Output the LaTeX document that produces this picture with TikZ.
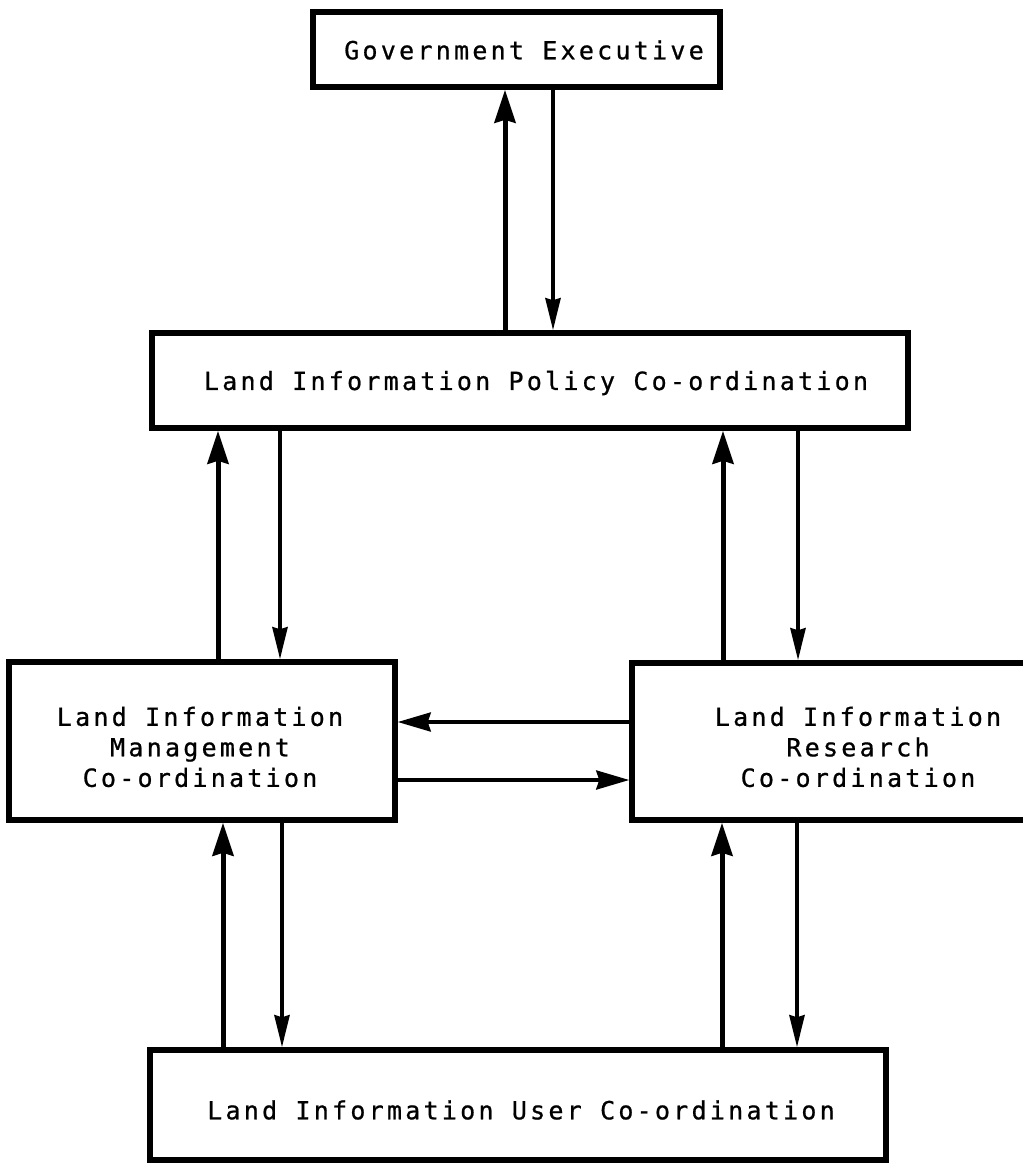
\documentclass[tikz,border=0pt]{standalone}
\usepackage{fontspec}
\usetikzlibrary{arrows.meta}
\newfontfamily\lettering{DejaVu Sans Mono}[LetterSpace=13,FakeBold=0.8]
\begin{document}
\begin{tikzpicture}[x=1pt,y=-1pt,
  box/.style={draw, rectangle, line width=5.5pt, inner sep=0pt},
  lbl/.style={font=\lettering\fontsize{25}{30.5}\selectfont, align=center, inner sep=0pt},
  uparrow/.style={line width=5pt, -{Stealth[length=33pt,width=21pt,inset=3pt]}},
  downarrow/.style={line width=4pt, -{Stealth[length=32pt,width=15pt,inset=2pt]}},
  sidearrow/.style={line width=3.5pt, -{Stealth[length=33pt,width=19pt,inset=3pt]}},
]
\useasboundingbox (0,0) rectangle (1023,1165);
\clip (0,0) rectangle (1023,1165);

% boxes
\node[box, minimum width=407pt, minimum height=75pt]  (gov)  at (516.5,49.5) {};
\node[box, minimum width=756pt, minimum height=95pt]  (pol)  at (530,380.5) {};
\node[box, minimum width=386pt, minimum height=158pt] (mgmt) at (202,741) {};
\node[box, minimum width=452pt, minimum height=157pt] (res)  at (858,741.5) {};
\node[box, minimum width=736pt, minimum height=110pt] (user) at (518,1105) {};

% labels
\node[lbl] (govt)  at (524,50)   {Government Executive};
\node[lbl] (polt)  at (536,383)  {Land Information Policy Co-ordination};
\node[lbl] (mgmtt) at (200,747)  {Land Information\\Management\\Co-ordination};
\node[lbl] (rest)  at (858,747)  {Land Information\\Research\\Co-ordination};
\node[lbl] (usert) at (521,1110) {Land Information User Co-ordination};

% connector columns
\coordinate (c1) at (505,0);
\coordinate (c2) at (553,0);
\coordinate (c3) at (218,0);
\coordinate (c4) at (280,0);
\coordinate (c5) at (723,0);
\coordinate (c6) at (798,0);
\coordinate (c7) at (223,0);
\coordinate (c8) at (282,0);
\coordinate (c9) at (722,0);
\coordinate (c10) at (797,0);
\coordinate (r1) at (0,722);
\coordinate (r2) at (0,780);

% policy <-> executive
\draw[uparrow]   (pol.north -| c1) -- (gov.south -| c1);
\draw[downarrow] (gov.south -| c2) -- (pol.north -| c2);
% management <-> policy
\draw[uparrow]   (mgmt.north -| c3) -- (pol.south -| c3);
\draw[downarrow] (pol.south -| c4) -- (mgmt.north -| c4);
% research <-> policy
\draw[uparrow]   (res.north -| c5) -- (pol.south -| c5);
\draw[downarrow] (pol.south -| c6) -- (res.north -| c6);
% management <-> research
\draw[sidearrow] (res.west |- r1) -- (mgmt.east |- r1);
\draw[sidearrow] (mgmt.east |- r2) -- (res.west |- r2);
% user <-> management
\draw[uparrow]   (user.north -| c7) -- (mgmt.south -| c7);
\draw[downarrow] (mgmt.south -| c8) -- (user.north -| c8);
% user <-> research
\draw[uparrow]   (user.north -| c9) -- (res.south -| c9);
\draw[downarrow] (res.south -| c10) -- (user.north -| c10);
\end{tikzpicture}
\end{document}
